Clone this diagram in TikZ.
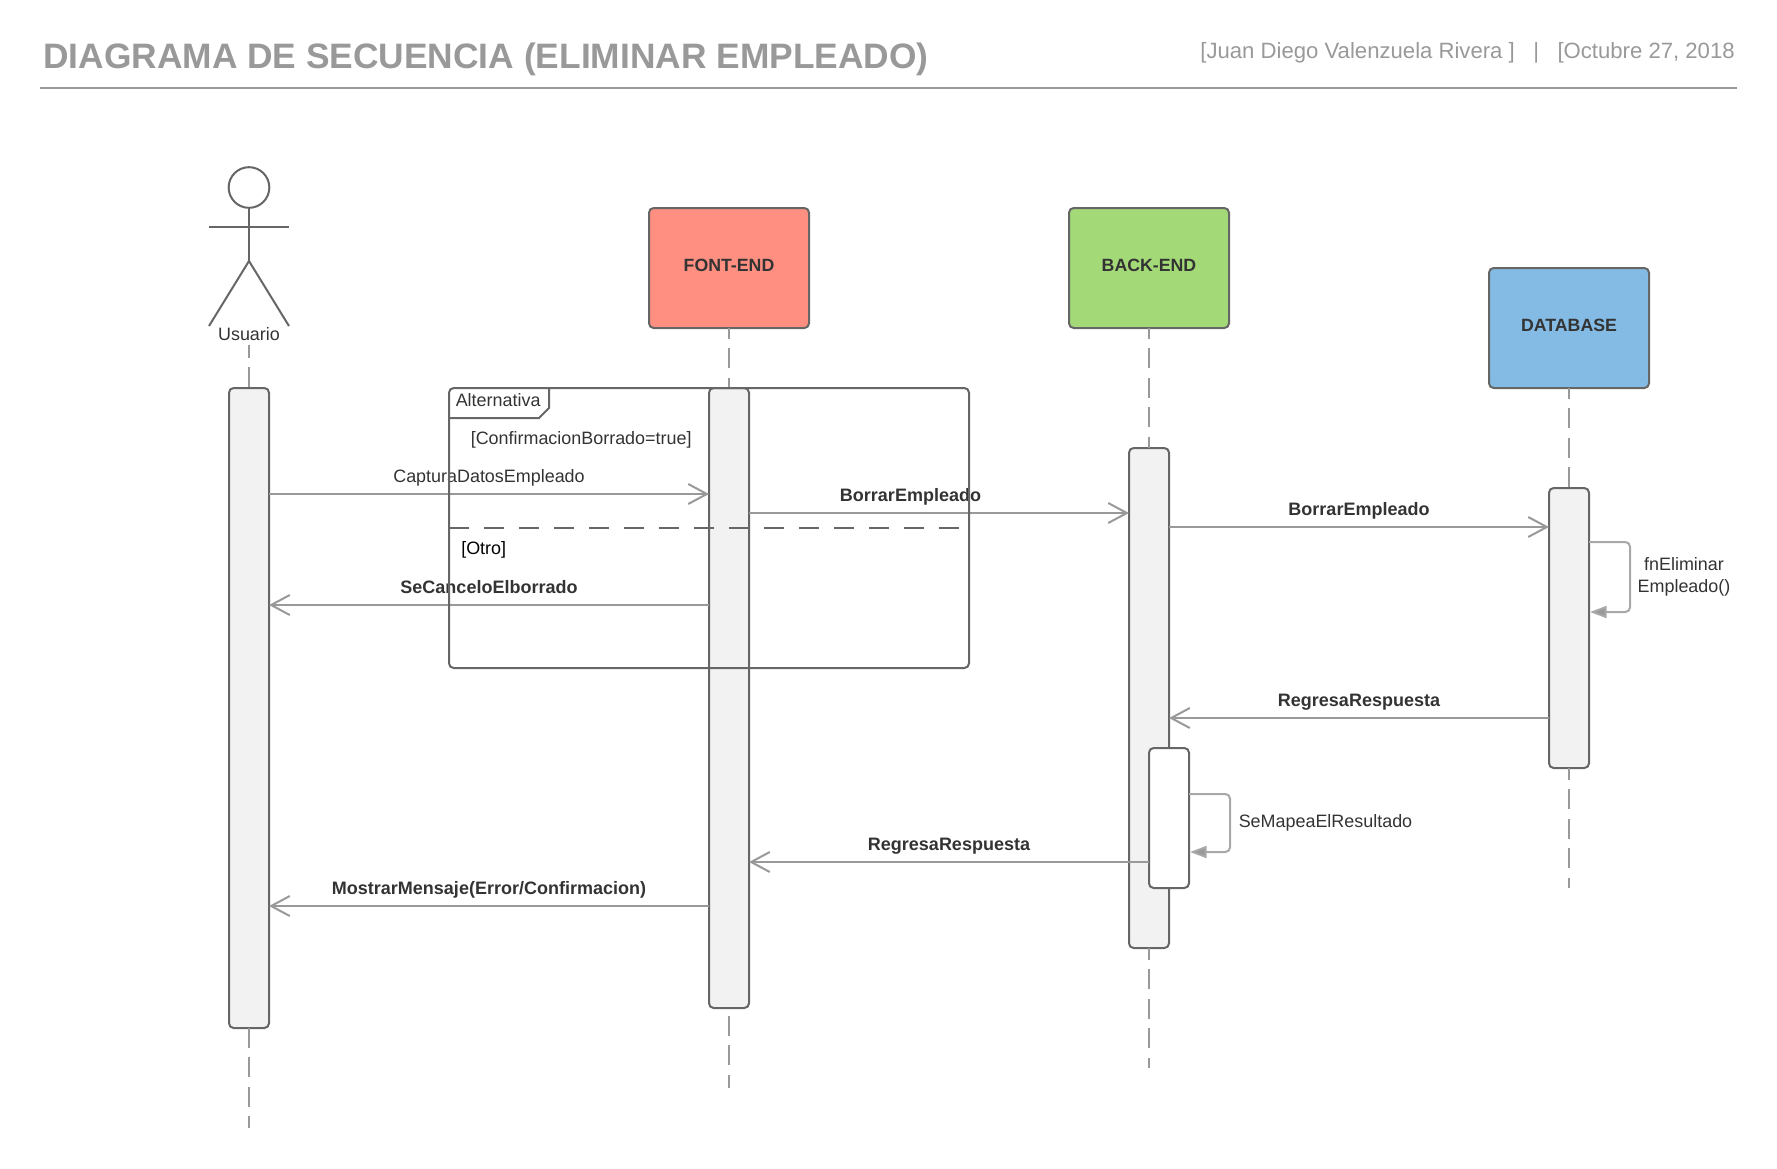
\documentclass[tikz,border=0pt]{standalone}
\usepackage{fontspec}
\setmainfont{Liberation Sans}
\usetikzlibrary{arrows.meta}
\definecolor{linegray}{HTML}{999999}
\definecolor{boxgray}{HTML}{666666}
\definecolor{textgray}{HTML}{333333}
\definecolor{barfill}{HTML}{F2F2F2}
\definecolor{frontfill}{HTML}{FF8F80}
\definecolor{backfill}{HTML}{A3D977}
\definecolor{dbfill}{HTML}{83BBE5}
\tikzset{
  lifeLine/.style={draw=linegray,line width=1.5pt,dash pattern=on 15pt off 7.05pt},
  actorLine/.style={draw=boxgray,line width=1.5pt},
  partBox/.style={draw=boxgray,line width=1.5pt,rounded corners=3.5pt,inner sep=0pt,outer sep=0pt,minimum width=120pt,minimum height=90pt},
  partLabel/.style={inner sep=0pt,text=textgray,font=\fontsize{13.3}{15}\selectfont\bfseries},
  barBox/.style={draw=boxgray,fill=barfill,line width=1.5pt,rounded corners=3.5pt,inner sep=0pt,outer sep=0pt,minimum width=30pt},
  msgLine/.style={draw=linegray,line width=1.5pt,-{Straight Barb[length=14pt,width=15pt,line width=1.5pt]}},
  selfLine/.style={draw=linegray!85,line width=1.5pt,rounded corners=3.5pt,-{Triangle[length=12.5pt,width=9pt,fill=linegray]},shorten >=0.75pt},
  msgBold/.style={inner sep=0pt,text height=10pt,text depth=3pt,text=textgray,font=\fontsize{13.5}{16}\selectfont\bfseries},
  msgPlain/.style={inner sep=0pt,text height=10pt,text depth=3pt,text=textgray,font=\fontsize{13.45}{16}\selectfont},
  noteText/.style={inner sep=0pt,text=textgray,font=\fontsize{13.45}{16.5}\selectfont,align=center},
}
\begin{document}
\begin{tikzpicture}[x=0.75pt,y=-0.75pt]
\useasboundingbox (0,0) rectangle (1777,1168);
\node[inner sep=0pt,anchor=west,text=linegray,font=\fontsize{26.5}{30}\selectfont\bfseries](title) at (43,59){DIAGRAMA DE SECUENCIA (ELIMINAR EMPLEADO)};
\node[inner sep=0pt,anchor=east,text=linegray,font=\fontsize{16.6}{20}\selectfont](byline) at (1735,53){[Juan Diego Valenzuela Rivera ]~~~|~~~[Octubre 27, 2018};
\draw[draw=linegray,line width=1.5pt](40,88)--(1737,88);

\node[circle,draw=boxgray,line width=1.5pt,inner sep=0pt,outer sep=0pt,minimum size=30.5pt](head) at (249,187.5){};
\draw[actorLine](head.south)--(249,261);
\draw[actorLine](209,227)--(289,227);
\draw[actorLine](209,326)--(249,261)--(289,326);
\node[noteText](userLabel) at (249,334.5){Usuario};

\node[partBox,fill=frontfill](front) at (729,268){};
\node[partBox,fill=backfill](back) at (1149,268){};
\node[partBox,fill=dbfill](data) at (1569,328){};
\node[partLabel](frontLabel) at (729,265){FONT-END};
\node[partLabel](backLabel) at (1149,265){BACK-END};
\node[partLabel](dataLabel) at (1569,325){DATABASE};

\node[barBox,minimum height=480pt](userBar) at (249,708){};
\node[barBox,minimum height=465pt](frontBar) at (729,698){};
\node[barBox,minimum height=375pt](backBar) at (1149,698){};
\node[barBox,minimum height=210pt](dataBar) at (1569,628){};
\node[barBox,fill=white,minimum height=105pt](mapBar) at (1169,818){};

\coordinate(userTop) at (249,345);
\coordinate(userEnd) at (249,1128);
\coordinate(frontEnd) at (729,1088);
\coordinate(backEnd) at (1149,1068);
\coordinate(dataEnd) at (1569,888);
\draw[lifeLine,dash phase=5.25pt](userTop)--(userBar.north);
\draw[lifeLine](userBar.south)--(userEnd);
\draw[lifeLine,dash phase=6.75pt](front.south)--(frontBar.north);
\draw[lifeLine,dash phase=16pt](frontBar.south)--(frontEnd);
\draw[lifeLine,dash phase=6.75pt](back.south)--(backBar.north);
\draw[lifeLine,dash phase=6pt](backBar.south)--(backEnd);
\draw[lifeLine,dash phase=6.75pt](data.south)--(dataBar.north);
\draw[lifeLine,dash phase=6pt](dataBar.south)--(dataEnd);

\draw[msgLine](userBar.east |- 0,494)--(frontBar.west |- 0,494)node[msgPlain,pos=0.5,above=5.25pt](captura){CapturaDatosEmpleado};
\draw[msgLine](frontBar.east |- 0,513)--(backBar.west |- 0,513)node[msgBold,pos=0.425,above=5.25pt](borrarA){BorrarEmpleado};
\draw[msgLine](backBar.east |- 0,527)--(dataBar.west |- 0,527)node[msgBold,pos=0.5,above=5.25pt](borrarB){BorrarEmpleado};
\draw[msgLine](frontBar.west |- 0,605)--(userBar.east |- 0,605)node[msgBold,pos=0.5,above=5.25pt](cancelo){SeCanceloElborrado};
\draw[msgLine](dataBar.west |- 0,718)--(backBar.east |- 0,718)node[msgBold,pos=0.5,above=5.25pt](regresaA){RegresaRespuesta};
\draw[msgLine](mapBar.west |- 0,862)--(frontBar.east |- 0,862)node[msgBold,pos=0.5,above=5.25pt](regresaB){RegresaRespuesta};
\draw[msgLine](frontBar.west |- 0,906)--(userBar.east |- 0,906)node[msgBold,pos=0.5,above=5.25pt](mostrar){MostrarMensaje(Error/Confirmacion)};

\draw[selfLine](dataBar.east |- 0,542)--++(41,0)--++(0,70)--(dataBar.east |- 0,612);
\draw[selfLine](mapBar.east |- 0,794)--++(41,0)--++(0,58)--(mapBar.east |- 0,852);
\node[noteText](fnLabel) at (1684,577){fnEliminar\\Empleado()};
\node[noteText,anchor=west](mapLabel) at (1238.5,822.5){SeMapeaElResultado};

\node[draw=boxgray,line width=1.5pt,rounded corners=3.5pt,inner sep=0pt,outer sep=0pt,minimum width=390pt,minimum height=210pt](altFrame) at (709,528){};
\draw[actorLine](altFrame.north west)++(100,0)--++(0,20)--++(-10,10)--++(-90,0);
\draw[draw=boxgray,line width=1.5pt,dash pattern=on 15pt off 11.25pt](altFrame.west |- 0,528)--(961,528);
\node[noteText,anchor=west](altLabel) at (455.5,400.5){Alternativa};
\node[noteText,anchor=west](okGuard) at (470.5,439.5){[ConfirmacionBorrado=true]};
\node[noteText,anchor=west,text=black](otherGuard) at (461,550){[Otro]};
\end{tikzpicture}
\end{document}
